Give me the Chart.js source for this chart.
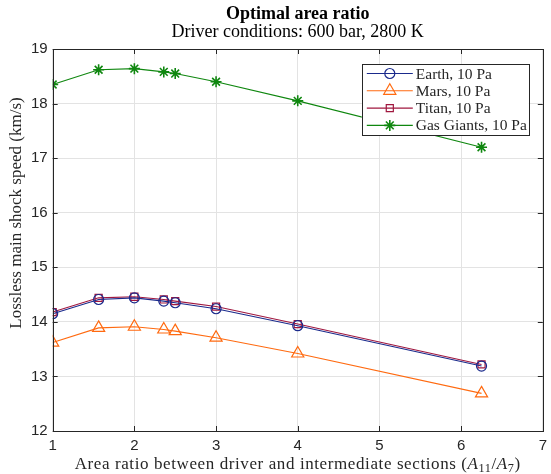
<!DOCTYPE html>
<html>
<head>
<meta charset="utf-8">
<script src="https://cdn.jsdelivr.net/npm/chart.js@4/dist/chart.umd.min.js"></script>
<style>
  body { margin: 0; background: #fff; }
  #chart { display: block; }
</style>
</head>
<body>
<canvas id="chart" width="551" height="474"></canvas>
<script>
// Area ratio A11/A7 (x axis)
const areaRatio = [1, 1.5625, 2, 2.36, 2.5, 3, 4, 6.25];

// Lossless main shock speed (km/s)
const earthSpeed = [14.15, 14.41, 14.44, 14.38, 14.35, 14.24, 13.93, 13.19];
const marsSpeed  = [13.62, 13.89, 13.91, 13.86, 13.83, 13.71, 13.42, 12.69];
const titanSpeed = [14.18, 14.44, 14.46, 14.41, 14.38, 14.28, 13.96, 13.22];
const gasSpeed   = [18.35, 18.62, 18.64, 18.58, 18.55, 18.40, 18.05, 17.20];

const seriesLabels = ['Earth, 10 Pa', 'Mars, 10 Pa', 'Titan, 10 Pa', 'Gas Giants, 10 Pa'];
const xTicks = [1, 2, 3, 4, 5, 6, 7];
const yTicks = [12, 13, 14, 15, 16, 17, 18, 19];

const titleText = 'Optimal area ratio';
const subtitleText = 'Driver conditions: 600 bar, 2800 K';
const yLabelText = 'Lossless main shock speed (km/s)';

const serif = '"Liberation Serif", "DejaVu Serif", serif';
const sans = '"Liberation Sans", Arial, sans-serif';
const axisColor = '#262626';

function toPoints(ys) {
    return areaRatio.map((x, i) => ({ x: x, y: ys[i] }));
}

const seriesStyles = [
    { color: '#1a2a8c', style: 'circle', radius: 5, bw: 1.2 },
    { color: '#ff6a10', style: 'triangle', radius: 7, bw: 1.2 },
    { color: '#a0173f', style: 'rect', radius: 5, bw: 1.2 },
    { color: '#0f870f', style: 'star', radius: 5.5, bw: 1.6 }
];

const datasets = [earthSpeed, marsSpeed, titanSpeed, gasSpeed].map((ys, i) => ({
    label: seriesLabels[i],
    data: toPoints(ys),
    borderColor: seriesStyles[i].color,
    backgroundColor: 'rgba(0,0,0,0)',
    pointBorderColor: seriesStyles[i].color,
    pointBackgroundColor: 'rgba(0,0,0,0)',
    pointStyle: seriesStyles[i].style,
    pointRadius: seriesStyles[i].radius,
    pointBorderWidth: seriesStyles[i].bw,
    borderWidth: 1.1,
    tension: 0
}));

// Box around the axes with inward ticks, MATLAB style
const boxTicks = {
    id: 'boxTicks',
    afterDatasetsDraw(chart) {
        const { ctx, chartArea: a, scales } = chart;
        const len = 5;
        ctx.save();
        ctx.strokeStyle = axisColor;
        ctx.lineWidth = 1;
        ctx.beginPath();
        scales.x.ticks.forEach(t => {
            const px = Math.round(scales.x.getPixelForValue(t.value)) + 0.5;
            ctx.moveTo(px, a.bottom); ctx.lineTo(px, a.bottom - len);
            ctx.moveTo(px, a.top); ctx.lineTo(px, a.top + len);
        });
        scales.y.ticks.forEach(t => {
            const py = Math.round(scales.y.getPixelForValue(t.value)) + 0.5;
            ctx.moveTo(a.left, py); ctx.lineTo(a.left + len, py);
            ctx.moveTo(a.right, py); ctx.lineTo(a.right - len, py);
        });
        ctx.stroke();
        ctx.strokeRect(Math.round(a.left) + 0.5, Math.round(a.top) + 0.5,
            Math.round(a.right - a.left), Math.round(a.bottom - a.top));
        ctx.restore();
    }
};

// Titles and axis labels, centred on the axes like MATLAB
const labels = {
    id: 'labels',
    afterDraw(chart) {
        const { ctx, chartArea: a } = chart;
        const cx = (a.left + a.right) / 2;
        ctx.save();
        ctx.textAlign = 'center';
        ctx.textBaseline = 'alphabetic';
        ctx.fillStyle = '#000';
        ctx.font = 'bold 18px ' + serif;
        ctx.fillText(titleText, cx, 19);
        ctx.font = '18px ' + serif;
        ctx.fillText(subtitleText, cx, 37);

        // y label
        ctx.fillStyle = axisColor;
        ctx.save();
        ctx.translate(21, 213);
        ctx.rotate(-Math.PI / 2);
        ctx.font = '17px ' + serif;
        ctx.fillText(yLabelText, 0, 0);
        ctx.restore();

        // x label with italic A and subscripts
        const size = 17;
        const parts = [
            { t: 'Area ratio between driver and intermediate sections (', f: size + 'px ' + serif, dy: 0 },
            { t: 'A', f: 'italic ' + size + 'px ' + serif, dy: 0 },
            { t: '11', f: (size * 0.72) + 'px ' + serif, dy: 3 },
            { t: '/', f: size + 'px ' + serif, dy: 0 },
            { t: 'A', f: 'italic ' + size + 'px ' + serif, dy: 0 },
            { t: '7', f: (size * 0.72) + 'px ' + serif, dy: 3 },
            { t: ')', f: size + 'px ' + serif, dy: 0 }
        ];
        ctx.textAlign = 'left';
        ctx.letterSpacing = '0.6px';
        let total = 0;
        parts.forEach(p => { ctx.font = p.f; p.w = ctx.measureText(p.t).width; total += p.w; });
        let x = cx - total / 2;
        const y = chart.height - 5;
        parts.forEach(p => {
            ctx.font = p.f;
            ctx.fillText(p.t, x, y + p.dy);
            x += p.w;
        });
        ctx.restore();
    }
};

// Legend box in the upper right corner of the plot
const boxLegend = {
    id: 'boxLegend',
    afterDraw(chart) {
        const { ctx, chartArea: a } = chart;
        const w = 167, h = 71;
        const x0 = a.right - 14 - w, y0 = a.top + 15;
        ctx.save();
        ctx.fillStyle = '#fff';
        ctx.fillRect(x0, y0, w, h);
        ctx.strokeStyle = axisColor;
        ctx.lineWidth = 1;
        ctx.strokeRect(Math.round(x0) + 0.5, Math.round(y0) + 0.5, w, h);
        ctx.textBaseline = 'middle';
        chart.data.datasets.forEach((ds, i) => {
            const y = y0 + 9.5 + i * 17.3;
            ctx.strokeStyle = ds.borderColor;
            ctx.lineWidth = 1.1;
            ctx.beginPath();
            ctx.moveTo(x0 + 5, y); ctx.lineTo(x0 + 51, y);
            ctx.stroke();
            ctx.fillStyle = 'rgba(0,0,0,0)';
            ctx.lineWidth = ds.pointBorderWidth;
            Chart.helpers.drawPoint(ctx, {
                pointStyle: ds.pointStyle,
                radius: ds.pointRadius,
                borderWidth: ds.pointBorderWidth,
                rotation: 0
            }, x0 + 28, y);
            ctx.font = '15.5px ' + serif;
            ctx.fillStyle = axisColor;
            ctx.fillText(ds.label, x0 + 54, y + 1);
        });
        ctx.restore();
    }
};

new Chart(document.getElementById('chart'), {
    type: 'line',
    data: { datasets: datasets },
    options: {
        responsive: false,
        animation: false,
        layout: { padding: { left: 26, right: 1, top: 49, bottom: 13 } },
        plugins: {
            legend: { display: false },
            tooltip: { enabled: false },
            title: { display: false }
        },
        scales: {
            x: {
                type: 'linear',
                min: 1,
                max: 7,
                afterBuildTicks: s => { s.ticks = xTicks.map(v => ({ value: v })); },
                afterFit: s => { s.paddingRight = 0; s.paddingLeft = 0; },
                ticks: { color: axisColor, font: { family: sans, size: 15 }, padding: 6 },
                grid: { color: '#e3e3e3', drawTicks: false },
                border: { display: false }
            },
            y: {
                type: 'linear',
                min: 12,
                max: 19,
                afterBuildTicks: s => { s.ticks = yTicks.map(v => ({ value: v })); },
                afterFit: s => { s.paddingTop = 0; s.paddingBottom = 0; },
                ticks: { color: axisColor, font: { family: sans, size: 15 }, padding: 5 },
                grid: { color: '#e3e3e3', drawTicks: false },
                border: { display: false }
            }
        }
    },
    plugins: [boxTicks, boxLegend, labels]
});
</script>
</body>
</html>
